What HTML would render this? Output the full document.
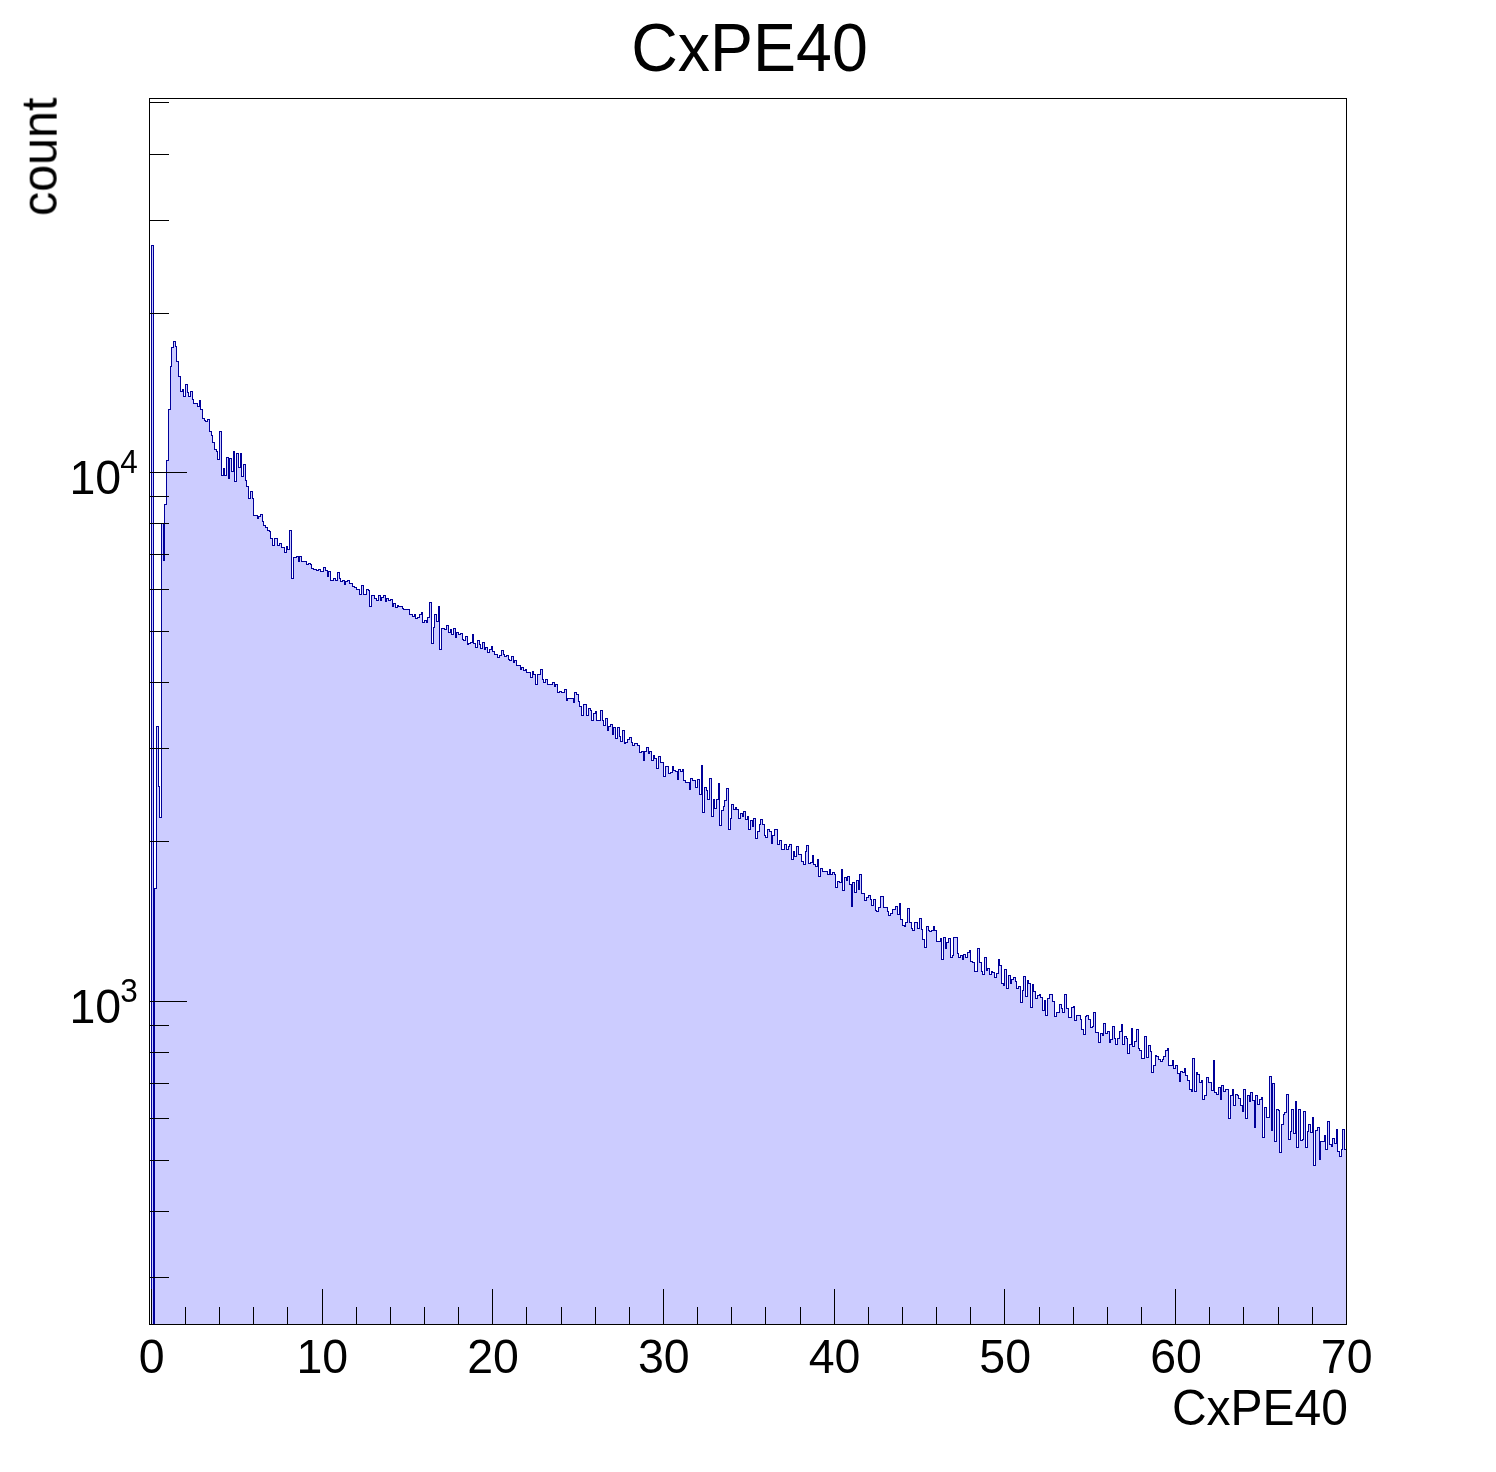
<!DOCTYPE html>
<html><head><meta charset="utf-8"><title>CxPE40</title>
<style>
html,body{margin:0;padding:0;background:#fff;overflow:hidden;}
svg{display:block}
text{font-family:"Liberation Sans",Arial,Helvetica,sans-serif;fill:#000}
</style></head><body>
<svg width="1496" height="1472" viewBox="0 0 1496 1472">
<rect x="0" y="0" width="1496" height="1472" fill="#fff"/>

<path d="M151.5 1324.5L151.5 245.5L153.5 245.5L153.5 1324.5L154.5 1324.5L154.5 888.5L156.5 888.5L156.5 726.5L158.5 726.5L158.5 786.5L159.5 786.5L159.5 817.5L161.5 817.5L161.5 523.5L163.5 523.5L163.5 560.5L164.5 560.5L164.5 504.5L166.5 504.5L166.5 460.5L168.5 460.5L168.5 409.5L170.5 409.5L170.5 366.5L171.5 366.5L171.5 347.5L173.5 347.5L173.5 341.5L175.5 341.5L175.5 346.5L176.5 346.5L176.5 361.5L178.5 361.5L178.5 376.5L180.5 376.5L180.5 391.5L182.5 391.5L182.5 389.5L183.5 389.5L183.5 396.5L185.5 396.5L185.5 384.5L187.5 384.5L187.5 392.5L188.5 392.5L188.5 396.5L190.5 396.5L190.5 391.5L192.5 391.5L192.5 399.5L193.5 399.5L193.5 403.5L195.5 403.5L195.5 403.5L197.5 403.5L197.5 406.5L199.5 406.5L199.5 400.5L200.5 400.5L200.5 409.5L202.5 409.5L202.5 418.5L204.5 418.5L204.5 420.5L205.5 420.5L205.5 421.5L207.5 421.5L207.5 419.5L209.5 419.5L209.5 431.5L211.5 431.5L211.5 435.5L212.5 435.5L212.5 442.5L214.5 442.5L214.5 449.5L216.5 449.5L216.5 451.5L217.5 451.5L217.5 459.5L219.5 459.5L219.5 431.5L221.5 431.5L221.5 475.5L223.5 475.5L223.5 468.5L224.5 468.5L224.5 475.5L226.5 475.5L226.5 457.5L228.5 457.5L228.5 478.5L229.5 478.5L229.5 458.5L231.5 458.5L231.5 471.5L233.5 471.5L233.5 451.5L234.5 451.5L234.5 481.5L236.5 481.5L236.5 453.5L238.5 453.5L238.5 467.5L240.5 467.5L240.5 453.5L241.5 453.5L241.5 476.5L243.5 476.5L243.5 464.5L245.5 464.5L245.5 480.5L246.5 480.5L246.5 486.5L248.5 486.5L248.5 498.5L250.5 498.5L250.5 491.5L252.5 491.5L252.5 498.5L253.5 498.5L253.5 515.5L255.5 515.5L255.5 515.5L257.5 515.5L257.5 518.5L258.5 518.5L258.5 516.5L260.5 516.5L260.5 514.5L262.5 514.5L262.5 521.5L263.5 521.5L263.5 525.5L265.5 525.5L265.5 527.5L267.5 527.5L267.5 530.5L269.5 530.5L269.5 531.5L270.5 531.5L270.5 538.5L272.5 538.5L272.5 545.5L274.5 545.5L274.5 538.5L275.5 538.5L275.5 538.5L277.5 538.5L277.5 545.5L279.5 545.5L279.5 543.5L281.5 543.5L281.5 547.5L282.5 547.5L282.5 547.5L284.5 547.5L284.5 552.5L286.5 552.5L286.5 546.5L287.5 546.5L287.5 549.5L289.5 549.5L289.5 530.5L291.5 530.5L291.5 578.5L293.5 578.5L293.5 557.5L294.5 557.5L294.5 557.5L296.5 557.5L296.5 556.5L298.5 556.5L298.5 561.5L299.5 561.5L299.5 556.5L301.5 556.5L301.5 561.5L303.5 561.5L303.5 561.5L304.5 561.5L304.5 561.5L306.5 561.5L306.5 564.5L308.5 564.5L308.5 563.5L310.5 563.5L310.5 564.5L311.5 564.5L311.5 568.5L313.5 568.5L313.5 569.5L315.5 569.5L315.5 569.5L316.5 569.5L316.5 570.5L318.5 570.5L318.5 569.5L320.5 569.5L320.5 571.5L322.5 571.5L322.5 571.5L323.5 571.5L323.5 567.5L325.5 567.5L325.5 570.5L327.5 570.5L327.5 576.5L328.5 576.5L328.5 571.5L330.5 571.5L330.5 580.5L332.5 580.5L332.5 580.5L333.5 580.5L333.5 578.5L335.5 578.5L335.5 580.5L337.5 580.5L337.5 572.5L339.5 572.5L339.5 578.5L340.5 578.5L340.5 581.5L342.5 581.5L342.5 580.5L344.5 580.5L344.5 584.5L345.5 584.5L345.5 581.5L347.5 581.5L347.5 580.5L349.5 580.5L349.5 583.5L351.5 583.5L351.5 583.5L352.5 583.5L352.5 586.5L354.5 586.5L354.5 587.5L356.5 587.5L356.5 589.5L357.5 589.5L357.5 589.5L359.5 589.5L359.5 594.5L361.5 594.5L361.5 585.5L363.5 585.5L363.5 594.5L364.5 594.5L364.5 594.5L366.5 594.5L366.5 589.5L368.5 589.5L368.5 590.5L369.5 590.5L369.5 606.5L371.5 606.5L371.5 595.5L373.5 595.5L373.5 595.5L374.5 595.5L374.5 598.5L376.5 598.5L376.5 600.5L378.5 600.5L378.5 595.5L380.5 595.5L380.5 600.5L381.5 600.5L381.5 597.5L383.5 597.5L383.5 595.5L385.5 595.5L385.5 601.5L386.5 601.5L386.5 598.5L388.5 598.5L388.5 600.5L390.5 600.5L390.5 599.5L392.5 599.5L392.5 606.5L393.5 606.5L393.5 603.5L395.5 603.5L395.5 607.5L397.5 607.5L397.5 605.5L398.5 605.5L398.5 606.5L400.5 606.5L400.5 606.5L402.5 606.5L402.5 608.5L403.5 608.5L403.5 609.5L405.5 609.5L405.5 609.5L407.5 609.5L407.5 609.5L409.5 609.5L409.5 614.5L410.5 614.5L410.5 614.5L412.5 614.5L412.5 616.5L414.5 616.5L414.5 614.5L415.5 614.5L415.5 618.5L417.5 618.5L417.5 617.5L419.5 617.5L419.5 614.5L421.5 614.5L421.5 612.5L422.5 612.5L422.5 622.5L424.5 622.5L424.5 620.5L426.5 620.5L426.5 622.5L427.5 622.5L427.5 617.5L429.5 617.5L429.5 602.5L431.5 602.5L431.5 643.5L433.5 643.5L433.5 627.5L434.5 627.5L434.5 614.5L436.5 614.5L436.5 621.5L438.5 621.5L438.5 606.5L439.5 606.5L439.5 649.5L441.5 649.5L441.5 628.5L443.5 628.5L443.5 628.5L444.5 628.5L444.5 629.5L446.5 629.5L446.5 625.5L448.5 625.5L448.5 632.5L450.5 632.5L450.5 629.5L451.5 629.5L451.5 634.5L453.5 634.5L453.5 628.5L455.5 628.5L455.5 637.5L456.5 637.5L456.5 632.5L458.5 632.5L458.5 634.5L460.5 634.5L460.5 633.5L462.5 633.5L462.5 639.5L463.5 639.5L463.5 640.5L465.5 640.5L465.5 636.5L467.5 636.5L467.5 644.5L468.5 644.5L468.5 643.5L470.5 643.5L470.5 642.5L472.5 642.5L472.5 634.5L473.5 634.5L473.5 643.5L475.5 643.5L475.5 647.5L477.5 647.5L477.5 640.5L479.5 640.5L479.5 644.5L480.5 644.5L480.5 648.5L482.5 648.5L482.5 642.5L484.5 642.5L484.5 649.5L485.5 649.5L485.5 647.5L487.5 647.5L487.5 652.5L489.5 652.5L489.5 649.5L491.5 649.5L491.5 646.5L492.5 646.5L492.5 651.5L494.5 651.5L494.5 654.5L496.5 654.5L496.5 654.5L497.5 654.5L497.5 657.5L499.5 657.5L499.5 655.5L501.5 655.5L501.5 650.5L503.5 650.5L503.5 654.5L504.5 654.5L504.5 656.5L506.5 656.5L506.5 655.5L508.5 655.5L508.5 659.5L509.5 659.5L509.5 660.5L511.5 660.5L511.5 656.5L513.5 656.5L513.5 662.5L514.5 662.5L514.5 660.5L516.5 660.5L516.5 665.5L518.5 665.5L518.5 665.5L520.5 665.5L520.5 669.5L521.5 669.5L521.5 667.5L523.5 667.5L523.5 670.5L525.5 670.5L525.5 669.5L526.5 669.5L526.5 672.5L528.5 672.5L528.5 672.5L530.5 672.5L530.5 677.5L532.5 677.5L532.5 671.5L533.5 671.5L533.5 674.5L535.5 674.5L535.5 684.5L537.5 684.5L537.5 674.5L538.5 674.5L538.5 674.5L540.5 674.5L540.5 669.5L542.5 669.5L542.5 679.5L543.5 679.5L543.5 682.5L545.5 682.5L545.5 679.5L547.5 679.5L547.5 684.5L549.5 684.5L549.5 684.5L550.5 684.5L550.5 684.5L552.5 684.5L552.5 682.5L554.5 682.5L554.5 686.5L555.5 686.5L555.5 684.5L557.5 684.5L557.5 692.5L559.5 692.5L559.5 691.5L561.5 691.5L561.5 692.5L562.5 692.5L562.5 692.5L564.5 692.5L564.5 689.5L566.5 689.5L566.5 700.5L567.5 700.5L567.5 698.5L569.5 698.5L569.5 698.5L571.5 698.5L571.5 698.5L573.5 698.5L573.5 702.5L574.5 702.5L574.5 692.5L576.5 692.5L576.5 694.5L578.5 694.5L578.5 701.5L579.5 701.5L579.5 706.5L581.5 706.5L581.5 715.5L583.5 715.5L583.5 704.5L584.5 704.5L584.5 704.5L586.5 704.5L586.5 715.5L588.5 715.5L588.5 708.5L590.5 708.5L590.5 710.5L591.5 710.5L591.5 720.5L593.5 720.5L593.5 713.5L595.5 713.5L595.5 711.5L596.5 711.5L596.5 720.5L598.5 720.5L598.5 720.5L600.5 720.5L600.5 710.5L602.5 710.5L602.5 720.5L603.5 720.5L603.5 725.5L605.5 725.5L605.5 718.5L607.5 718.5L607.5 730.5L608.5 730.5L608.5 726.5L610.5 726.5L610.5 724.5L612.5 724.5L612.5 734.5L613.5 734.5L613.5 727.5L615.5 727.5L615.5 738.5L617.5 738.5L617.5 727.5L619.5 727.5L619.5 736.5L620.5 736.5L620.5 741.5L622.5 741.5L622.5 730.5L624.5 730.5L624.5 743.5L625.5 743.5L625.5 742.5L627.5 742.5L627.5 739.5L629.5 739.5L629.5 737.5L631.5 737.5L631.5 742.5L632.5 742.5L632.5 745.5L634.5 745.5L634.5 743.5L636.5 743.5L636.5 743.5L637.5 743.5L637.5 745.5L639.5 745.5L639.5 752.5L641.5 752.5L641.5 751.5L643.5 751.5L643.5 760.5L644.5 760.5L644.5 751.5L646.5 751.5L646.5 747.5L648.5 747.5L648.5 753.5L649.5 753.5L649.5 751.5L651.5 751.5L651.5 760.5L653.5 760.5L653.5 755.5L654.5 755.5L654.5 758.5L656.5 758.5L656.5 768.5L658.5 768.5L658.5 756.5L660.5 756.5L660.5 762.5L661.5 762.5L661.5 762.5L663.5 762.5L663.5 776.5L665.5 776.5L665.5 766.5L666.5 766.5L666.5 766.5L668.5 766.5L668.5 773.5L670.5 773.5L670.5 772.5L672.5 772.5L672.5 766.5L673.5 766.5L673.5 770.5L675.5 770.5L675.5 771.5L677.5 771.5L677.5 779.5L678.5 779.5L678.5 769.5L680.5 769.5L680.5 771.5L682.5 771.5L682.5 769.5L683.5 769.5L683.5 780.5L685.5 780.5L685.5 782.5L687.5 782.5L687.5 782.5L689.5 782.5L689.5 789.5L690.5 789.5L690.5 778.5L692.5 778.5L692.5 780.5L694.5 780.5L694.5 780.5L695.5 780.5L695.5 787.5L697.5 787.5L697.5 779.5L699.5 779.5L699.5 794.5L701.5 794.5L701.5 765.5L702.5 765.5L702.5 812.5L704.5 812.5L704.5 787.5L706.5 787.5L706.5 790.5L707.5 790.5L707.5 799.5L709.5 799.5L709.5 778.5L711.5 778.5L711.5 816.5L713.5 816.5L713.5 799.5L714.5 799.5L714.5 808.5L716.5 808.5L716.5 799.5L718.5 799.5L718.5 783.5L719.5 783.5L719.5 825.5L721.5 825.5L721.5 810.5L723.5 810.5L723.5 806.5L724.5 806.5L724.5 800.5L726.5 800.5L726.5 788.5L728.5 788.5L728.5 829.5L730.5 829.5L730.5 818.5L731.5 818.5L731.5 804.5L733.5 804.5L733.5 809.5L735.5 809.5L735.5 807.5L736.5 807.5L736.5 809.5L738.5 809.5L738.5 818.5L740.5 818.5L740.5 813.5L742.5 813.5L742.5 816.5L743.5 816.5L743.5 811.5L745.5 811.5L745.5 819.5L747.5 819.5L747.5 816.5L748.5 816.5L748.5 829.5L750.5 829.5L750.5 820.5L752.5 820.5L752.5 826.5L753.5 826.5L753.5 818.5L755.5 818.5L755.5 838.5L757.5 838.5L757.5 831.5L759.5 831.5L759.5 824.5L760.5 824.5L760.5 819.5L762.5 819.5L762.5 824.5L764.5 824.5L764.5 835.5L765.5 835.5L765.5 837.5L767.5 837.5L767.5 829.5L769.5 829.5L769.5 831.5L771.5 831.5L771.5 843.5L772.5 843.5L772.5 835.5L774.5 835.5L774.5 829.5L776.5 829.5L776.5 829.5L777.5 829.5L777.5 844.5L779.5 844.5L779.5 840.5L781.5 840.5L781.5 849.5L783.5 849.5L783.5 849.5L784.5 849.5L784.5 844.5L786.5 844.5L786.5 849.5L788.5 849.5L788.5 846.5L789.5 846.5L789.5 844.5L791.5 844.5L791.5 859.5L793.5 859.5L793.5 851.5L794.5 851.5L794.5 856.5L796.5 856.5L796.5 846.5L798.5 846.5L798.5 854.5L800.5 854.5L800.5 854.5L801.5 854.5L801.5 861.5L803.5 861.5L803.5 864.5L805.5 864.5L805.5 851.5L806.5 851.5L806.5 845.5L808.5 845.5L808.5 863.5L810.5 863.5L810.5 862.5L812.5 862.5L812.5 855.5L813.5 855.5L813.5 864.5L815.5 864.5L815.5 866.5L817.5 866.5L817.5 859.5L818.5 859.5L818.5 876.5L820.5 876.5L820.5 868.5L822.5 868.5L822.5 871.5L823.5 871.5L823.5 871.5L825.5 871.5L825.5 871.5L827.5 871.5L827.5 874.5L829.5 874.5L829.5 869.5L830.5 869.5L830.5 874.5L832.5 874.5L832.5 872.5L834.5 872.5L834.5 874.5L835.5 874.5L835.5 887.5L837.5 887.5L837.5 881.5L839.5 881.5L839.5 882.5L841.5 882.5L841.5 869.5L842.5 869.5L842.5 890.5L844.5 890.5L844.5 877.5L846.5 877.5L846.5 880.5L847.5 880.5L847.5 876.5L849.5 876.5L849.5 884.5L851.5 884.5L851.5 906.5L852.5 906.5L852.5 882.5L854.5 882.5L854.5 892.5L856.5 892.5L856.5 880.5L858.5 880.5L858.5 889.5L859.5 889.5L859.5 874.5L861.5 874.5L861.5 893.5L863.5 893.5L863.5 893.5L864.5 893.5L864.5 900.5L866.5 900.5L866.5 897.5L868.5 897.5L868.5 895.5L870.5 895.5L870.5 899.5L871.5 899.5L871.5 905.5L873.5 905.5L873.5 899.5L875.5 899.5L875.5 910.5L876.5 910.5L876.5 911.5L878.5 911.5L878.5 907.5L880.5 907.5L880.5 896.5L882.5 896.5L882.5 896.5L883.5 896.5L883.5 907.5L885.5 907.5L885.5 907.5L887.5 907.5L887.5 911.5L888.5 911.5L888.5 915.5L890.5 915.5L890.5 913.5L892.5 913.5L892.5 909.5L893.5 909.5L893.5 909.5L895.5 909.5L895.5 906.5L897.5 906.5L897.5 914.5L899.5 914.5L899.5 903.5L900.5 903.5L900.5 919.5L902.5 919.5L902.5 925.5L904.5 925.5L904.5 926.5L905.5 926.5L905.5 922.5L907.5 922.5L907.5 908.5L909.5 908.5L909.5 922.5L911.5 922.5L911.5 928.5L912.5 928.5L912.5 930.5L914.5 930.5L914.5 922.5L916.5 922.5L916.5 922.5L917.5 922.5L917.5 928.5L919.5 928.5L919.5 918.5L921.5 918.5L921.5 929.5L922.5 929.5L922.5 939.5L924.5 939.5L924.5 947.5L926.5 947.5L926.5 926.5L928.5 926.5L928.5 930.5L929.5 930.5L929.5 931.5L931.5 931.5L931.5 930.5L933.5 930.5L933.5 926.5L934.5 926.5L934.5 930.5L936.5 930.5L936.5 941.5L938.5 941.5L938.5 941.5L940.5 941.5L940.5 938.5L941.5 938.5L941.5 959.5L943.5 959.5L943.5 937.5L945.5 937.5L945.5 948.5L946.5 948.5L946.5 942.5L948.5 942.5L948.5 938.5L950.5 938.5L950.5 957.5L952.5 957.5L952.5 955.5L953.5 955.5L953.5 937.5L955.5 937.5L955.5 937.5L957.5 937.5L957.5 953.5L958.5 953.5L958.5 957.5L960.5 957.5L960.5 955.5L962.5 955.5L962.5 959.5L963.5 959.5L963.5 954.5L965.5 954.5L965.5 957.5L967.5 957.5L967.5 952.5L969.5 952.5L969.5 950.5L970.5 950.5L970.5 961.5L972.5 961.5L972.5 962.5L974.5 962.5L974.5 971.5L975.5 971.5L975.5 971.5L977.5 971.5L977.5 948.5L979.5 948.5L979.5 962.5L981.5 962.5L981.5 971.5L982.5 971.5L982.5 974.5L984.5 974.5L984.5 957.5L986.5 957.5L986.5 970.5L987.5 970.5L987.5 968.5L989.5 968.5L989.5 974.5L991.5 974.5L991.5 971.5L992.5 971.5L992.5 972.5L994.5 972.5L994.5 977.5L996.5 977.5L996.5 973.5L998.5 973.5L998.5 959.5L999.5 959.5L999.5 965.5L1001.5 965.5L1001.5 983.5L1003.5 983.5L1003.5 985.5L1004.5 985.5L1004.5 969.5L1006.5 969.5L1006.5 988.5L1008.5 988.5L1008.5 975.5L1010.5 975.5L1010.5 983.5L1011.5 983.5L1011.5 979.5L1013.5 979.5L1013.5 977.5L1015.5 977.5L1015.5 981.5L1016.5 981.5L1016.5 988.5L1018.5 988.5L1018.5 986.5L1020.5 986.5L1020.5 1002.5L1022.5 1002.5L1022.5 990.5L1023.5 990.5L1023.5 976.5L1025.5 976.5L1025.5 996.5L1027.5 996.5L1027.5 980.5L1028.5 980.5L1028.5 983.5L1030.5 983.5L1030.5 1007.5L1032.5 1007.5L1032.5 984.5L1033.5 984.5L1033.5 991.5L1035.5 991.5L1035.5 998.5L1037.5 998.5L1037.5 995.5L1039.5 995.5L1039.5 994.5L1040.5 994.5L1040.5 997.5L1042.5 997.5L1042.5 1010.5L1044.5 1010.5L1044.5 1000.5L1045.5 1000.5L1045.5 1015.5L1047.5 1015.5L1047.5 998.5L1049.5 998.5L1049.5 994.5L1051.5 994.5L1051.5 994.5L1052.5 994.5L1052.5 1001.5L1054.5 1001.5L1054.5 1016.5L1056.5 1016.5L1056.5 1012.5L1057.5 1012.5L1057.5 1012.5L1059.5 1012.5L1059.5 1004.5L1061.5 1004.5L1061.5 1008.5L1062.5 1008.5L1062.5 1012.5L1064.5 1012.5L1064.5 994.5L1066.5 994.5L1066.5 1008.5L1068.5 1008.5L1068.5 1017.5L1069.5 1017.5L1069.5 1017.5L1071.5 1017.5L1071.5 1007.5L1073.5 1007.5L1073.5 1006.5L1074.5 1006.5L1074.5 1020.5L1076.5 1020.5L1076.5 1015.5L1078.5 1015.5L1078.5 1015.5L1080.5 1015.5L1080.5 1019.5L1081.5 1019.5L1081.5 1029.5L1083.5 1029.5L1083.5 1034.5L1085.5 1034.5L1085.5 1016.5L1086.5 1016.5L1086.5 1015.5L1088.5 1015.5L1088.5 1019.5L1090.5 1019.5L1090.5 1027.5L1092.5 1027.5L1092.5 1026.5L1093.5 1026.5L1093.5 1012.5L1095.5 1012.5L1095.5 1032.5L1097.5 1032.5L1097.5 1032.5L1098.5 1032.5L1098.5 1042.5L1100.5 1042.5L1100.5 1033.5L1102.5 1033.5L1102.5 1035.5L1103.5 1035.5L1103.5 1023.5L1105.5 1023.5L1105.5 1033.5L1107.5 1033.5L1107.5 1031.5L1109.5 1031.5L1109.5 1042.5L1110.5 1042.5L1110.5 1039.5L1112.5 1039.5L1112.5 1026.5L1114.5 1026.5L1114.5 1038.5L1115.5 1038.5L1115.5 1044.5L1117.5 1044.5L1117.5 1038.5L1119.5 1038.5L1119.5 1031.5L1121.5 1031.5L1121.5 1024.5L1122.5 1024.5L1122.5 1044.5L1124.5 1044.5L1124.5 1036.5L1126.5 1036.5L1126.5 1038.5L1127.5 1038.5L1127.5 1053.5L1129.5 1053.5L1129.5 1044.5L1131.5 1044.5L1131.5 1028.5L1132.5 1028.5L1132.5 1046.5L1134.5 1046.5L1134.5 1041.5L1136.5 1041.5L1136.5 1029.5L1138.5 1029.5L1138.5 1048.5L1139.5 1048.5L1139.5 1050.5L1141.5 1050.5L1141.5 1058.5L1143.5 1058.5L1143.5 1058.5L1144.5 1058.5L1144.5 1036.5L1146.5 1036.5L1146.5 1057.5L1148.5 1057.5L1148.5 1045.5L1150.5 1045.5L1150.5 1051.5L1151.5 1051.5L1151.5 1072.5L1153.5 1072.5L1153.5 1065.5L1155.5 1065.5L1155.5 1055.5L1156.5 1055.5L1156.5 1056.5L1158.5 1056.5L1158.5 1059.5L1160.5 1059.5L1160.5 1061.5L1162.5 1061.5L1162.5 1059.5L1163.5 1059.5L1163.5 1056.5L1165.5 1056.5L1165.5 1050.5L1167.5 1050.5L1167.5 1048.5L1168.5 1048.5L1168.5 1065.5L1170.5 1065.5L1170.5 1065.5L1172.5 1065.5L1172.5 1060.5L1173.5 1060.5L1173.5 1068.5L1175.5 1068.5L1175.5 1065.5L1177.5 1065.5L1177.5 1073.5L1179.5 1073.5L1179.5 1081.5L1180.5 1081.5L1180.5 1071.5L1182.5 1071.5L1182.5 1072.5L1184.5 1072.5L1184.5 1068.5L1185.5 1068.5L1185.5 1075.5L1187.5 1075.5L1187.5 1080.5L1189.5 1080.5L1189.5 1089.5L1191.5 1089.5L1191.5 1091.5L1192.5 1091.5L1192.5 1058.5L1194.5 1058.5L1194.5 1091.5L1196.5 1091.5L1196.5 1072.5L1197.5 1072.5L1197.5 1074.5L1199.5 1074.5L1199.5 1082.5L1201.5 1082.5L1201.5 1080.5L1202.5 1080.5L1202.5 1099.5L1204.5 1099.5L1204.5 1095.5L1206.5 1095.5L1206.5 1077.5L1208.5 1077.5L1208.5 1082.5L1209.5 1082.5L1209.5 1082.5L1211.5 1082.5L1211.5 1090.5L1213.5 1090.5L1213.5 1060.5L1214.5 1060.5L1214.5 1092.5L1216.5 1092.5L1216.5 1094.5L1218.5 1094.5L1218.5 1087.5L1220.5 1087.5L1220.5 1099.5L1221.5 1099.5L1221.5 1085.5L1223.5 1085.5L1223.5 1091.5L1225.5 1091.5L1225.5 1089.5L1226.5 1089.5L1226.5 1089.5L1228.5 1089.5L1228.5 1118.5L1230.5 1118.5L1230.5 1095.5L1232.5 1095.5L1232.5 1089.5L1233.5 1089.5L1233.5 1105.5L1235.5 1105.5L1235.5 1094.5L1237.5 1094.5L1237.5 1095.5L1238.5 1095.5L1238.5 1098.5L1240.5 1098.5L1240.5 1105.5L1242.5 1105.5L1242.5 1111.5L1243.5 1111.5L1243.5 1089.5L1245.5 1089.5L1245.5 1118.5L1247.5 1118.5L1247.5 1095.5L1249.5 1095.5L1249.5 1101.5L1250.5 1101.5L1250.5 1092.5L1252.5 1092.5L1252.5 1100.5L1254.5 1100.5L1254.5 1127.5L1255.5 1127.5L1255.5 1095.5L1257.5 1095.5L1257.5 1104.5L1259.5 1104.5L1259.5 1099.5L1261.5 1099.5L1261.5 1097.5L1262.5 1097.5L1262.5 1137.5L1264.5 1137.5L1264.5 1107.5L1266.5 1107.5L1266.5 1117.5L1267.5 1117.5L1267.5 1117.5L1269.5 1117.5L1269.5 1076.5L1271.5 1076.5L1271.5 1130.5L1272.5 1130.5L1272.5 1083.5L1274.5 1083.5L1274.5 1141.5L1276.5 1141.5L1276.5 1109.5L1278.5 1109.5L1278.5 1110.5L1279.5 1110.5L1279.5 1152.5L1281.5 1152.5L1281.5 1124.5L1283.5 1124.5L1283.5 1114.5L1284.5 1114.5L1284.5 1112.5L1286.5 1112.5L1286.5 1094.5L1288.5 1094.5L1288.5 1139.5L1290.5 1139.5L1290.5 1131.5L1291.5 1131.5L1291.5 1109.5L1293.5 1109.5L1293.5 1133.5L1295.5 1133.5L1295.5 1101.5L1296.5 1101.5L1296.5 1147.5L1298.5 1147.5L1298.5 1109.5L1300.5 1109.5L1300.5 1140.5L1302.5 1140.5L1302.5 1139.5L1303.5 1139.5L1303.5 1111.5L1305.5 1111.5L1305.5 1147.5L1307.5 1147.5L1307.5 1131.5L1308.5 1131.5L1308.5 1124.5L1310.5 1124.5L1310.5 1132.5L1312.5 1132.5L1312.5 1117.5L1313.5 1117.5L1313.5 1165.5L1315.5 1165.5L1315.5 1130.5L1317.5 1130.5L1317.5 1127.5L1319.5 1127.5L1319.5 1159.5L1320.5 1159.5L1320.5 1141.5L1322.5 1141.5L1322.5 1141.5L1324.5 1141.5L1324.5 1135.5L1325.5 1135.5L1325.5 1149.5L1327.5 1149.5L1327.5 1121.5L1329.5 1121.5L1329.5 1144.5L1331.5 1144.5L1331.5 1146.5L1332.5 1146.5L1332.5 1138.5L1334.5 1138.5L1334.5 1143.5L1336.5 1143.5L1336.5 1129.5L1337.5 1129.5L1337.5 1151.5L1339.5 1151.5L1339.5 1156.5L1341.5 1156.5L1341.5 1149.5L1342.5 1149.5L1342.5 1129.5L1344.5 1129.5L1344.5 1149.5L1346.5 1149.5L1346.5 1324.5Z" fill="#ccccff" stroke="none" shape-rendering="crispEdges"/>
<path d="M151.5 1324.5L151.5 245.5L153.5 245.5L153.5 1324.5L154.5 1324.5L154.5 888.5L156.5 888.5L156.5 726.5L158.5 726.5L158.5 786.5L159.5 786.5L159.5 817.5L161.5 817.5L161.5 523.5L163.5 523.5L163.5 560.5L164.5 560.5L164.5 504.5L166.5 504.5L166.5 460.5L168.5 460.5L168.5 409.5L170.5 409.5L170.5 366.5L171.5 366.5L171.5 347.5L173.5 347.5L173.5 341.5L175.5 341.5L175.5 346.5L176.5 346.5L176.5 361.5L178.5 361.5L178.5 376.5L180.5 376.5L180.5 391.5L182.5 391.5L182.5 389.5L183.5 389.5L183.5 396.5L185.5 396.5L185.5 384.5L187.5 384.5L187.5 392.5L188.5 392.5L188.5 396.5L190.5 396.5L190.5 391.5L192.5 391.5L192.5 399.5L193.5 399.5L193.5 403.5L195.5 403.5L195.5 403.5L197.5 403.5L197.5 406.5L199.5 406.5L199.5 400.5L200.5 400.5L200.5 409.5L202.5 409.5L202.5 418.5L204.5 418.5L204.5 420.5L205.5 420.5L205.5 421.5L207.5 421.5L207.5 419.5L209.5 419.5L209.5 431.5L211.5 431.5L211.5 435.5L212.5 435.5L212.5 442.5L214.5 442.5L214.5 449.5L216.5 449.5L216.5 451.5L217.5 451.5L217.5 459.5L219.5 459.5L219.5 431.5L221.5 431.5L221.5 475.5L223.5 475.5L223.5 468.5L224.5 468.5L224.5 475.5L226.5 475.5L226.5 457.5L228.5 457.5L228.5 478.5L229.5 478.5L229.5 458.5L231.5 458.5L231.5 471.5L233.5 471.5L233.5 451.5L234.5 451.5L234.5 481.5L236.5 481.5L236.5 453.5L238.5 453.5L238.5 467.5L240.5 467.5L240.5 453.5L241.5 453.5L241.5 476.5L243.5 476.5L243.5 464.5L245.5 464.5L245.5 480.5L246.5 480.5L246.5 486.5L248.5 486.5L248.5 498.5L250.5 498.5L250.5 491.5L252.5 491.5L252.5 498.5L253.5 498.5L253.5 515.5L255.5 515.5L255.5 515.5L257.5 515.5L257.5 518.5L258.5 518.5L258.5 516.5L260.5 516.5L260.5 514.5L262.5 514.5L262.5 521.5L263.5 521.5L263.5 525.5L265.5 525.5L265.5 527.5L267.5 527.5L267.5 530.5L269.5 530.5L269.5 531.5L270.5 531.5L270.5 538.5L272.5 538.5L272.5 545.5L274.5 545.5L274.5 538.5L275.5 538.5L275.5 538.5L277.5 538.5L277.5 545.5L279.5 545.5L279.5 543.5L281.5 543.5L281.5 547.5L282.5 547.5L282.5 547.5L284.5 547.5L284.5 552.5L286.5 552.5L286.5 546.5L287.5 546.5L287.5 549.5L289.5 549.5L289.5 530.5L291.5 530.5L291.5 578.5L293.5 578.5L293.5 557.5L294.5 557.5L294.5 557.5L296.5 557.5L296.5 556.5L298.5 556.5L298.5 561.5L299.5 561.5L299.5 556.5L301.5 556.5L301.5 561.5L303.5 561.5L303.5 561.5L304.5 561.5L304.5 561.5L306.5 561.5L306.5 564.5L308.5 564.5L308.5 563.5L310.5 563.5L310.5 564.5L311.5 564.5L311.5 568.5L313.5 568.5L313.5 569.5L315.5 569.5L315.5 569.5L316.5 569.5L316.5 570.5L318.5 570.5L318.5 569.5L320.5 569.5L320.5 571.5L322.5 571.5L322.5 571.5L323.5 571.5L323.5 567.5L325.5 567.5L325.5 570.5L327.5 570.5L327.5 576.5L328.5 576.5L328.5 571.5L330.5 571.5L330.5 580.5L332.5 580.5L332.5 580.5L333.5 580.5L333.5 578.5L335.5 578.5L335.5 580.5L337.5 580.5L337.5 572.5L339.5 572.5L339.5 578.5L340.5 578.5L340.5 581.5L342.5 581.5L342.5 580.5L344.5 580.5L344.5 584.5L345.5 584.5L345.5 581.5L347.5 581.5L347.5 580.5L349.5 580.5L349.5 583.5L351.5 583.5L351.5 583.5L352.5 583.5L352.5 586.5L354.5 586.5L354.5 587.5L356.5 587.5L356.5 589.5L357.5 589.5L357.5 589.5L359.5 589.5L359.5 594.5L361.5 594.5L361.5 585.5L363.5 585.5L363.5 594.5L364.5 594.5L364.5 594.5L366.5 594.5L366.5 589.5L368.5 589.5L368.5 590.5L369.5 590.5L369.5 606.5L371.5 606.5L371.5 595.5L373.5 595.5L373.5 595.5L374.5 595.5L374.5 598.5L376.5 598.5L376.5 600.5L378.5 600.5L378.5 595.5L380.5 595.5L380.5 600.5L381.5 600.5L381.5 597.5L383.5 597.5L383.5 595.5L385.5 595.5L385.5 601.5L386.5 601.5L386.5 598.5L388.5 598.5L388.5 600.5L390.5 600.5L390.5 599.5L392.5 599.5L392.5 606.5L393.5 606.5L393.5 603.5L395.5 603.5L395.5 607.5L397.5 607.5L397.5 605.5L398.5 605.5L398.5 606.5L400.5 606.5L400.5 606.5L402.5 606.5L402.5 608.5L403.5 608.5L403.5 609.5L405.5 609.5L405.5 609.5L407.5 609.5L407.5 609.5L409.5 609.5L409.5 614.5L410.5 614.5L410.5 614.5L412.5 614.5L412.5 616.5L414.5 616.5L414.5 614.5L415.5 614.5L415.5 618.5L417.5 618.5L417.5 617.5L419.5 617.5L419.5 614.5L421.5 614.5L421.5 612.5L422.5 612.5L422.5 622.5L424.5 622.5L424.5 620.5L426.5 620.5L426.5 622.5L427.5 622.5L427.5 617.5L429.5 617.5L429.5 602.5L431.5 602.5L431.5 643.5L433.5 643.5L433.5 627.5L434.5 627.5L434.5 614.5L436.5 614.5L436.5 621.5L438.5 621.5L438.5 606.5L439.5 606.5L439.5 649.5L441.5 649.5L441.5 628.5L443.5 628.5L443.5 628.5L444.5 628.5L444.5 629.5L446.5 629.5L446.5 625.5L448.5 625.5L448.5 632.5L450.5 632.5L450.5 629.5L451.5 629.5L451.5 634.5L453.5 634.5L453.5 628.5L455.5 628.5L455.5 637.5L456.5 637.5L456.5 632.5L458.5 632.5L458.5 634.5L460.5 634.5L460.5 633.5L462.5 633.5L462.5 639.5L463.5 639.5L463.5 640.5L465.5 640.5L465.5 636.5L467.5 636.5L467.5 644.5L468.5 644.5L468.5 643.5L470.5 643.5L470.5 642.5L472.5 642.5L472.5 634.5L473.5 634.5L473.5 643.5L475.5 643.5L475.5 647.5L477.5 647.5L477.5 640.5L479.5 640.5L479.5 644.5L480.5 644.5L480.5 648.5L482.5 648.5L482.5 642.5L484.5 642.5L484.5 649.5L485.5 649.5L485.5 647.5L487.5 647.5L487.5 652.5L489.5 652.5L489.5 649.5L491.5 649.5L491.5 646.5L492.5 646.5L492.5 651.5L494.5 651.5L494.5 654.5L496.5 654.5L496.5 654.5L497.5 654.5L497.5 657.5L499.5 657.5L499.5 655.5L501.5 655.5L501.5 650.5L503.5 650.5L503.5 654.5L504.5 654.5L504.5 656.5L506.5 656.5L506.5 655.5L508.5 655.5L508.5 659.5L509.5 659.5L509.5 660.5L511.5 660.5L511.5 656.5L513.5 656.5L513.5 662.5L514.5 662.5L514.5 660.5L516.5 660.5L516.5 665.5L518.5 665.5L518.5 665.5L520.5 665.5L520.5 669.5L521.5 669.5L521.5 667.5L523.5 667.5L523.5 670.5L525.5 670.5L525.5 669.5L526.5 669.5L526.5 672.5L528.5 672.5L528.5 672.5L530.5 672.5L530.5 677.5L532.5 677.5L532.5 671.5L533.5 671.5L533.5 674.5L535.5 674.5L535.5 684.5L537.5 684.5L537.5 674.5L538.5 674.5L538.5 674.5L540.5 674.5L540.5 669.5L542.5 669.5L542.5 679.5L543.5 679.5L543.5 682.5L545.5 682.5L545.5 679.5L547.5 679.5L547.5 684.5L549.5 684.5L549.5 684.5L550.5 684.5L550.5 684.5L552.5 684.5L552.5 682.5L554.5 682.5L554.5 686.5L555.5 686.5L555.5 684.5L557.5 684.5L557.5 692.5L559.5 692.5L559.5 691.5L561.5 691.5L561.5 692.5L562.5 692.5L562.5 692.5L564.5 692.5L564.5 689.5L566.5 689.5L566.5 700.5L567.5 700.5L567.5 698.5L569.5 698.5L569.5 698.5L571.5 698.5L571.5 698.5L573.5 698.5L573.5 702.5L574.5 702.5L574.5 692.5L576.5 692.5L576.5 694.5L578.5 694.5L578.5 701.5L579.5 701.5L579.5 706.5L581.5 706.5L581.5 715.5L583.5 715.5L583.5 704.5L584.5 704.5L584.5 704.5L586.5 704.5L586.5 715.5L588.5 715.5L588.5 708.5L590.5 708.5L590.5 710.5L591.5 710.5L591.5 720.5L593.5 720.5L593.5 713.5L595.5 713.5L595.5 711.5L596.5 711.5L596.5 720.5L598.5 720.5L598.5 720.5L600.5 720.5L600.5 710.5L602.5 710.5L602.5 720.5L603.5 720.5L603.5 725.5L605.5 725.5L605.5 718.5L607.5 718.5L607.5 730.5L608.5 730.5L608.5 726.5L610.5 726.5L610.5 724.5L612.5 724.5L612.5 734.5L613.5 734.5L613.5 727.5L615.5 727.5L615.5 738.5L617.5 738.5L617.5 727.5L619.5 727.5L619.5 736.5L620.5 736.5L620.5 741.5L622.5 741.5L622.5 730.5L624.5 730.5L624.5 743.5L625.5 743.5L625.5 742.5L627.5 742.5L627.5 739.5L629.5 739.5L629.5 737.5L631.5 737.5L631.5 742.5L632.5 742.5L632.5 745.5L634.5 745.5L634.5 743.5L636.5 743.5L636.5 743.5L637.5 743.5L637.5 745.5L639.5 745.5L639.5 752.5L641.5 752.5L641.5 751.5L643.5 751.5L643.5 760.5L644.5 760.5L644.5 751.5L646.5 751.5L646.5 747.5L648.5 747.5L648.5 753.5L649.5 753.5L649.5 751.5L651.5 751.5L651.5 760.5L653.5 760.5L653.5 755.5L654.5 755.5L654.5 758.5L656.5 758.5L656.5 768.5L658.5 768.5L658.5 756.5L660.5 756.5L660.5 762.5L661.5 762.5L661.5 762.5L663.5 762.5L663.5 776.5L665.5 776.5L665.5 766.5L666.5 766.5L666.5 766.5L668.5 766.5L668.5 773.5L670.5 773.5L670.5 772.5L672.5 772.5L672.5 766.5L673.5 766.5L673.5 770.5L675.5 770.5L675.5 771.5L677.5 771.5L677.5 779.5L678.5 779.5L678.5 769.5L680.5 769.5L680.5 771.5L682.5 771.5L682.5 769.5L683.5 769.5L683.5 780.5L685.5 780.5L685.5 782.5L687.5 782.5L687.5 782.5L689.5 782.5L689.5 789.5L690.5 789.5L690.5 778.5L692.5 778.5L692.5 780.5L694.5 780.5L694.5 780.5L695.5 780.5L695.5 787.5L697.5 787.5L697.5 779.5L699.5 779.5L699.5 794.5L701.5 794.5L701.5 765.5L702.5 765.5L702.5 812.5L704.5 812.5L704.5 787.5L706.5 787.5L706.5 790.5L707.5 790.5L707.5 799.5L709.5 799.5L709.5 778.5L711.5 778.5L711.5 816.5L713.5 816.5L713.5 799.5L714.5 799.5L714.5 808.5L716.5 808.5L716.5 799.5L718.5 799.5L718.5 783.5L719.5 783.5L719.5 825.5L721.5 825.5L721.5 810.5L723.5 810.5L723.5 806.5L724.5 806.5L724.5 800.5L726.5 800.5L726.5 788.5L728.5 788.5L728.5 829.5L730.5 829.5L730.5 818.5L731.5 818.5L731.5 804.5L733.5 804.5L733.5 809.5L735.5 809.5L735.5 807.5L736.5 807.5L736.5 809.5L738.5 809.5L738.5 818.5L740.5 818.5L740.5 813.5L742.5 813.5L742.5 816.5L743.5 816.5L743.5 811.5L745.5 811.5L745.5 819.5L747.5 819.5L747.5 816.5L748.5 816.5L748.5 829.5L750.5 829.5L750.5 820.5L752.5 820.5L752.5 826.5L753.5 826.5L753.5 818.5L755.5 818.5L755.5 838.5L757.5 838.5L757.5 831.5L759.5 831.5L759.5 824.5L760.5 824.5L760.5 819.5L762.5 819.5L762.5 824.5L764.5 824.5L764.5 835.5L765.5 835.5L765.5 837.5L767.5 837.5L767.5 829.5L769.5 829.5L769.5 831.5L771.5 831.5L771.5 843.5L772.5 843.5L772.5 835.5L774.5 835.5L774.5 829.5L776.5 829.5L776.5 829.5L777.5 829.5L777.5 844.5L779.5 844.5L779.5 840.5L781.5 840.5L781.5 849.5L783.5 849.5L783.5 849.5L784.5 849.5L784.5 844.5L786.5 844.5L786.5 849.5L788.5 849.5L788.5 846.5L789.5 846.5L789.5 844.5L791.5 844.5L791.5 859.5L793.5 859.5L793.5 851.5L794.5 851.5L794.5 856.5L796.5 856.5L796.5 846.5L798.5 846.5L798.5 854.5L800.5 854.5L800.5 854.5L801.5 854.5L801.5 861.5L803.5 861.5L803.5 864.5L805.5 864.5L805.5 851.5L806.5 851.5L806.5 845.5L808.5 845.5L808.5 863.5L810.5 863.5L810.5 862.5L812.5 862.5L812.5 855.5L813.5 855.5L813.5 864.5L815.5 864.5L815.5 866.5L817.5 866.5L817.5 859.5L818.5 859.5L818.5 876.5L820.5 876.5L820.5 868.5L822.5 868.5L822.5 871.5L823.5 871.5L823.5 871.5L825.5 871.5L825.5 871.5L827.5 871.5L827.5 874.5L829.5 874.5L829.5 869.5L830.5 869.5L830.5 874.5L832.5 874.5L832.5 872.5L834.5 872.5L834.5 874.5L835.5 874.5L835.5 887.5L837.5 887.5L837.5 881.5L839.5 881.5L839.5 882.5L841.5 882.5L841.5 869.5L842.5 869.5L842.5 890.5L844.5 890.5L844.5 877.5L846.5 877.5L846.5 880.5L847.5 880.5L847.5 876.5L849.5 876.5L849.5 884.5L851.5 884.5L851.5 906.5L852.5 906.5L852.5 882.5L854.5 882.5L854.5 892.5L856.5 892.5L856.5 880.5L858.5 880.5L858.5 889.5L859.5 889.5L859.5 874.5L861.5 874.5L861.5 893.5L863.5 893.5L863.5 893.5L864.5 893.5L864.5 900.5L866.5 900.5L866.5 897.5L868.5 897.5L868.5 895.5L870.5 895.5L870.5 899.5L871.5 899.5L871.5 905.5L873.5 905.5L873.5 899.5L875.5 899.5L875.5 910.5L876.5 910.5L876.5 911.5L878.5 911.5L878.5 907.5L880.5 907.5L880.5 896.5L882.5 896.5L882.5 896.5L883.5 896.5L883.5 907.5L885.5 907.5L885.5 907.5L887.5 907.5L887.5 911.5L888.5 911.5L888.5 915.5L890.5 915.5L890.5 913.5L892.5 913.5L892.5 909.5L893.5 909.5L893.5 909.5L895.5 909.5L895.5 906.5L897.5 906.5L897.5 914.5L899.5 914.5L899.5 903.5L900.5 903.5L900.5 919.5L902.5 919.5L902.5 925.5L904.5 925.5L904.5 926.5L905.5 926.5L905.5 922.5L907.5 922.5L907.5 908.5L909.5 908.5L909.5 922.5L911.5 922.5L911.5 928.5L912.5 928.5L912.5 930.5L914.5 930.5L914.5 922.5L916.5 922.5L916.5 922.5L917.5 922.5L917.5 928.5L919.5 928.5L919.5 918.5L921.5 918.5L921.5 929.5L922.5 929.5L922.5 939.5L924.5 939.5L924.5 947.5L926.5 947.5L926.5 926.5L928.5 926.5L928.5 930.5L929.5 930.5L929.5 931.5L931.5 931.5L931.5 930.5L933.5 930.5L933.5 926.5L934.5 926.5L934.5 930.5L936.5 930.5L936.5 941.5L938.5 941.5L938.5 941.5L940.5 941.5L940.5 938.5L941.5 938.5L941.5 959.5L943.5 959.5L943.5 937.5L945.5 937.5L945.5 948.5L946.5 948.5L946.5 942.5L948.5 942.5L948.5 938.5L950.5 938.5L950.5 957.5L952.5 957.5L952.5 955.5L953.5 955.5L953.5 937.5L955.5 937.5L955.5 937.5L957.5 937.5L957.5 953.5L958.5 953.5L958.5 957.5L960.5 957.5L960.5 955.5L962.5 955.5L962.5 959.5L963.5 959.5L963.5 954.5L965.5 954.5L965.5 957.5L967.5 957.5L967.5 952.5L969.5 952.5L969.5 950.5L970.5 950.5L970.5 961.5L972.5 961.5L972.5 962.5L974.5 962.5L974.5 971.5L975.5 971.5L975.5 971.5L977.5 971.5L977.5 948.5L979.5 948.5L979.5 962.5L981.5 962.5L981.5 971.5L982.5 971.5L982.5 974.5L984.5 974.5L984.5 957.5L986.5 957.5L986.5 970.5L987.5 970.5L987.5 968.5L989.5 968.5L989.5 974.5L991.5 974.5L991.5 971.5L992.5 971.5L992.5 972.5L994.5 972.5L994.5 977.5L996.5 977.5L996.5 973.5L998.5 973.5L998.5 959.5L999.5 959.5L999.5 965.5L1001.5 965.5L1001.5 983.5L1003.5 983.5L1003.5 985.5L1004.5 985.5L1004.5 969.5L1006.5 969.5L1006.5 988.5L1008.5 988.5L1008.5 975.5L1010.5 975.5L1010.5 983.5L1011.5 983.5L1011.5 979.5L1013.5 979.5L1013.5 977.5L1015.5 977.5L1015.5 981.5L1016.5 981.5L1016.5 988.5L1018.5 988.5L1018.5 986.5L1020.5 986.5L1020.5 1002.5L1022.5 1002.5L1022.5 990.5L1023.5 990.5L1023.5 976.5L1025.5 976.5L1025.5 996.5L1027.5 996.5L1027.5 980.5L1028.5 980.5L1028.5 983.5L1030.5 983.5L1030.5 1007.5L1032.5 1007.5L1032.5 984.5L1033.5 984.5L1033.5 991.5L1035.5 991.5L1035.5 998.5L1037.5 998.5L1037.5 995.5L1039.5 995.5L1039.5 994.5L1040.5 994.5L1040.5 997.5L1042.5 997.5L1042.5 1010.5L1044.5 1010.5L1044.5 1000.5L1045.5 1000.5L1045.5 1015.5L1047.5 1015.5L1047.5 998.5L1049.5 998.5L1049.5 994.5L1051.5 994.5L1051.5 994.5L1052.5 994.5L1052.5 1001.5L1054.5 1001.5L1054.5 1016.5L1056.5 1016.5L1056.5 1012.5L1057.5 1012.5L1057.5 1012.5L1059.5 1012.5L1059.5 1004.5L1061.5 1004.5L1061.5 1008.5L1062.5 1008.5L1062.5 1012.5L1064.5 1012.5L1064.5 994.5L1066.5 994.5L1066.5 1008.5L1068.5 1008.5L1068.5 1017.5L1069.5 1017.5L1069.5 1017.5L1071.5 1017.5L1071.5 1007.5L1073.5 1007.5L1073.5 1006.5L1074.5 1006.5L1074.5 1020.5L1076.5 1020.5L1076.5 1015.5L1078.5 1015.5L1078.5 1015.5L1080.5 1015.5L1080.5 1019.5L1081.5 1019.5L1081.5 1029.5L1083.5 1029.5L1083.5 1034.5L1085.5 1034.5L1085.5 1016.5L1086.5 1016.5L1086.5 1015.5L1088.5 1015.5L1088.5 1019.5L1090.5 1019.5L1090.5 1027.5L1092.5 1027.5L1092.5 1026.5L1093.5 1026.5L1093.5 1012.5L1095.5 1012.5L1095.5 1032.5L1097.5 1032.5L1097.5 1032.5L1098.5 1032.5L1098.5 1042.5L1100.5 1042.5L1100.5 1033.5L1102.5 1033.5L1102.5 1035.5L1103.5 1035.5L1103.5 1023.5L1105.5 1023.5L1105.5 1033.5L1107.5 1033.5L1107.5 1031.5L1109.5 1031.5L1109.5 1042.5L1110.5 1042.5L1110.5 1039.5L1112.5 1039.5L1112.5 1026.5L1114.5 1026.5L1114.5 1038.5L1115.5 1038.5L1115.5 1044.5L1117.5 1044.5L1117.5 1038.5L1119.5 1038.5L1119.5 1031.5L1121.5 1031.5L1121.5 1024.5L1122.5 1024.5L1122.5 1044.5L1124.5 1044.5L1124.5 1036.5L1126.5 1036.5L1126.5 1038.5L1127.5 1038.5L1127.5 1053.5L1129.5 1053.5L1129.5 1044.5L1131.5 1044.5L1131.5 1028.5L1132.5 1028.5L1132.5 1046.5L1134.5 1046.5L1134.5 1041.5L1136.5 1041.5L1136.5 1029.5L1138.5 1029.5L1138.5 1048.5L1139.5 1048.5L1139.5 1050.5L1141.5 1050.5L1141.5 1058.5L1143.5 1058.5L1143.5 1058.5L1144.5 1058.5L1144.5 1036.5L1146.5 1036.5L1146.5 1057.5L1148.5 1057.5L1148.5 1045.5L1150.5 1045.5L1150.5 1051.5L1151.5 1051.5L1151.5 1072.5L1153.5 1072.5L1153.5 1065.5L1155.5 1065.5L1155.5 1055.5L1156.5 1055.5L1156.5 1056.5L1158.5 1056.5L1158.5 1059.5L1160.5 1059.5L1160.5 1061.5L1162.5 1061.5L1162.5 1059.5L1163.5 1059.5L1163.5 1056.5L1165.5 1056.5L1165.5 1050.5L1167.5 1050.5L1167.5 1048.5L1168.5 1048.5L1168.5 1065.5L1170.5 1065.5L1170.5 1065.5L1172.5 1065.5L1172.5 1060.5L1173.5 1060.5L1173.5 1068.5L1175.5 1068.5L1175.5 1065.5L1177.5 1065.5L1177.5 1073.5L1179.5 1073.5L1179.5 1081.5L1180.5 1081.5L1180.5 1071.5L1182.5 1071.5L1182.5 1072.5L1184.5 1072.5L1184.5 1068.5L1185.5 1068.5L1185.5 1075.5L1187.5 1075.5L1187.5 1080.5L1189.5 1080.5L1189.5 1089.5L1191.5 1089.5L1191.5 1091.5L1192.5 1091.5L1192.5 1058.5L1194.5 1058.5L1194.5 1091.5L1196.5 1091.5L1196.5 1072.5L1197.5 1072.5L1197.5 1074.5L1199.5 1074.5L1199.5 1082.5L1201.5 1082.5L1201.5 1080.5L1202.5 1080.5L1202.5 1099.5L1204.5 1099.5L1204.5 1095.5L1206.5 1095.5L1206.5 1077.5L1208.5 1077.5L1208.5 1082.5L1209.5 1082.5L1209.5 1082.5L1211.5 1082.5L1211.5 1090.5L1213.5 1090.5L1213.5 1060.5L1214.5 1060.5L1214.5 1092.5L1216.5 1092.5L1216.5 1094.5L1218.5 1094.5L1218.5 1087.5L1220.5 1087.5L1220.5 1099.5L1221.5 1099.5L1221.5 1085.5L1223.5 1085.5L1223.5 1091.5L1225.5 1091.5L1225.5 1089.5L1226.5 1089.5L1226.5 1089.5L1228.5 1089.5L1228.5 1118.5L1230.5 1118.5L1230.5 1095.5L1232.5 1095.5L1232.5 1089.5L1233.5 1089.5L1233.5 1105.5L1235.5 1105.5L1235.5 1094.5L1237.5 1094.5L1237.5 1095.5L1238.5 1095.5L1238.5 1098.5L1240.5 1098.5L1240.5 1105.5L1242.5 1105.5L1242.5 1111.5L1243.5 1111.5L1243.5 1089.5L1245.5 1089.5L1245.5 1118.5L1247.5 1118.5L1247.5 1095.5L1249.5 1095.5L1249.5 1101.5L1250.5 1101.5L1250.5 1092.5L1252.5 1092.5L1252.5 1100.5L1254.5 1100.5L1254.5 1127.5L1255.5 1127.5L1255.5 1095.5L1257.5 1095.5L1257.5 1104.5L1259.5 1104.5L1259.5 1099.5L1261.5 1099.5L1261.5 1097.5L1262.5 1097.5L1262.5 1137.5L1264.5 1137.5L1264.5 1107.5L1266.5 1107.5L1266.5 1117.5L1267.5 1117.5L1267.5 1117.5L1269.5 1117.5L1269.5 1076.5L1271.5 1076.5L1271.5 1130.5L1272.5 1130.5L1272.5 1083.5L1274.5 1083.5L1274.5 1141.5L1276.5 1141.5L1276.5 1109.5L1278.5 1109.5L1278.5 1110.5L1279.5 1110.5L1279.5 1152.5L1281.5 1152.5L1281.5 1124.5L1283.5 1124.5L1283.5 1114.5L1284.5 1114.5L1284.5 1112.5L1286.5 1112.5L1286.5 1094.5L1288.5 1094.5L1288.5 1139.5L1290.5 1139.5L1290.5 1131.5L1291.5 1131.5L1291.5 1109.5L1293.5 1109.5L1293.5 1133.5L1295.5 1133.5L1295.5 1101.5L1296.5 1101.5L1296.5 1147.5L1298.5 1147.5L1298.5 1109.5L1300.5 1109.5L1300.5 1140.5L1302.5 1140.5L1302.5 1139.5L1303.5 1139.5L1303.5 1111.5L1305.5 1111.5L1305.5 1147.5L1307.5 1147.5L1307.5 1131.5L1308.5 1131.5L1308.5 1124.5L1310.5 1124.5L1310.5 1132.5L1312.5 1132.5L1312.5 1117.5L1313.5 1117.5L1313.5 1165.5L1315.5 1165.5L1315.5 1130.5L1317.5 1130.5L1317.5 1127.5L1319.5 1127.5L1319.5 1159.5L1320.5 1159.5L1320.5 1141.5L1322.5 1141.5L1322.5 1141.5L1324.5 1141.5L1324.5 1135.5L1325.5 1135.5L1325.5 1149.5L1327.5 1149.5L1327.5 1121.5L1329.5 1121.5L1329.5 1144.5L1331.5 1144.5L1331.5 1146.5L1332.5 1146.5L1332.5 1138.5L1334.5 1138.5L1334.5 1143.5L1336.5 1143.5L1336.5 1129.5L1337.5 1129.5L1337.5 1151.5L1339.5 1151.5L1339.5 1156.5L1341.5 1156.5L1341.5 1149.5L1342.5 1149.5L1342.5 1129.5L1344.5 1129.5L1344.5 1149.5L1346.5 1149.5L1346.5 1324.5" fill="none" stroke="#000099" stroke-width="1" shape-rendering="crispEdges"/>
<g stroke="#000" stroke-width="1" fill="none" shape-rendering="crispEdges">
<rect x="149.5" y="98.5" width="1197" height="1226"/>
<line x1="151.5" y1="1325" x2="151.5" y2="1289"/>
<line x1="185.5" y1="1325" x2="185.5" y2="1307"/>
<line x1="219.5" y1="1325" x2="219.5" y2="1307"/>
<line x1="253.5" y1="1325" x2="253.5" y2="1307"/>
<line x1="287.5" y1="1325" x2="287.5" y2="1307"/>
<line x1="322.5" y1="1325" x2="322.5" y2="1289"/>
<line x1="356.5" y1="1325" x2="356.5" y2="1307"/>
<line x1="390.5" y1="1325" x2="390.5" y2="1307"/>
<line x1="424.5" y1="1325" x2="424.5" y2="1307"/>
<line x1="458.5" y1="1325" x2="458.5" y2="1307"/>
<line x1="492.5" y1="1325" x2="492.5" y2="1289"/>
<line x1="526.5" y1="1325" x2="526.5" y2="1307"/>
<line x1="561.5" y1="1325" x2="561.5" y2="1307"/>
<line x1="595.5" y1="1325" x2="595.5" y2="1307"/>
<line x1="629.5" y1="1325" x2="629.5" y2="1307"/>
<line x1="663.5" y1="1325" x2="663.5" y2="1289"/>
<line x1="697.5" y1="1325" x2="697.5" y2="1307"/>
<line x1="731.5" y1="1325" x2="731.5" y2="1307"/>
<line x1="765.5" y1="1325" x2="765.5" y2="1307"/>
<line x1="800.5" y1="1325" x2="800.5" y2="1307"/>
<line x1="834.5" y1="1325" x2="834.5" y2="1289"/>
<line x1="868.5" y1="1325" x2="868.5" y2="1307"/>
<line x1="902.5" y1="1325" x2="902.5" y2="1307"/>
<line x1="936.5" y1="1325" x2="936.5" y2="1307"/>
<line x1="970.5" y1="1325" x2="970.5" y2="1307"/>
<line x1="1004.5" y1="1325" x2="1004.5" y2="1289"/>
<line x1="1039.5" y1="1325" x2="1039.5" y2="1307"/>
<line x1="1073.5" y1="1325" x2="1073.5" y2="1307"/>
<line x1="1107.5" y1="1325" x2="1107.5" y2="1307"/>
<line x1="1141.5" y1="1325" x2="1141.5" y2="1307"/>
<line x1="1175.5" y1="1325" x2="1175.5" y2="1289"/>
<line x1="1209.5" y1="1325" x2="1209.5" y2="1307"/>
<line x1="1243.5" y1="1325" x2="1243.5" y2="1307"/>
<line x1="1278.5" y1="1325" x2="1278.5" y2="1307"/>
<line x1="1312.5" y1="1325" x2="1312.5" y2="1307"/>
<line x1="1346.5" y1="1325" x2="1346.5" y2="1289"/>
<line x1="149" y1="1277.5" x2="169" y2="1277.5"/>
<line x1="149" y1="1211.5" x2="169" y2="1211.5"/>
<line x1="149" y1="1160.5" x2="169" y2="1160.5"/>
<line x1="149" y1="1118.5" x2="169" y2="1118.5"/>
<line x1="149" y1="1083.5" x2="169" y2="1083.5"/>
<line x1="149" y1="1052.5" x2="169" y2="1052.5"/>
<line x1="149" y1="1025.5" x2="169" y2="1025.5"/>
<line x1="149" y1="1001.5" x2="187" y2="1001.5"/>
<line x1="149" y1="841.5" x2="169" y2="841.5"/>
<line x1="149" y1="748.5" x2="169" y2="748.5"/>
<line x1="149" y1="682.5" x2="169" y2="682.5"/>
<line x1="149" y1="631.5" x2="169" y2="631.5"/>
<line x1="149" y1="589.5" x2="169" y2="589.5"/>
<line x1="149" y1="554.5" x2="169" y2="554.5"/>
<line x1="149" y1="523.5" x2="169" y2="523.5"/>
<line x1="149" y1="496.5" x2="169" y2="496.5"/>
<line x1="149" y1="472.5" x2="187" y2="472.5"/>
<line x1="149" y1="313.5" x2="169" y2="313.5"/>
<line x1="149" y1="220.5" x2="169" y2="220.5"/>
<line x1="149" y1="154.5" x2="169" y2="154.5"/>
<line x1="149" y1="102.5" x2="169" y2="102.5"/>
</g>
<g style="opacity:0.999">
<text transform="translate(749.5,71.3) scale(1,1.075)" font-size="64.5" text-anchor="middle">CxPE40</text>
<text transform="translate(151.6,1373.3) scale(1,1.02)" font-size="46.5" text-anchor="middle">0</text>
<text transform="translate(322.3,1373.3) scale(1,1.02)" font-size="46.5" text-anchor="middle">10</text>
<text transform="translate(493.1,1373.3) scale(1,1.02)" font-size="46.5" text-anchor="middle">20</text>
<text transform="translate(663.8,1373.3) scale(1,1.02)" font-size="46.5" text-anchor="middle">30</text>
<text transform="translate(834.5,1373.3) scale(1,1.02)" font-size="46.5" text-anchor="middle">40</text>
<text transform="translate(1005.2,1373.3) scale(1,1.02)" font-size="46.5" text-anchor="middle">50</text>
<text transform="translate(1176.0,1373.3) scale(1,1.02)" font-size="46.5" text-anchor="middle">60</text>
<text transform="translate(1346.7,1373.3) scale(1,1.02)" font-size="46.5" text-anchor="middle">70</text>
<text transform="translate(1348,1425.3) scale(1,1.06)" font-size="48" text-anchor="end">CxPE40</text>
<text transform="translate(57,97.5) rotate(-90) scale(1,1.03)" font-size="48.5" text-anchor="end">count</text>
<text transform="translate(69.5,494.4) scale(1,1.02)" font-size="46.5" text-anchor="start">10</text>
<text transform="translate(120.3,473.0) scale(1,1.04)" font-size="31.5" text-anchor="start">4</text>
<text transform="translate(69.5,1023.4) scale(1,1.02)" font-size="46.5" text-anchor="start">10</text>
<text transform="translate(120.3,1002.0) scale(1,1.04)" font-size="31.5" text-anchor="start">3</text>
</g>
</svg></body></html>
